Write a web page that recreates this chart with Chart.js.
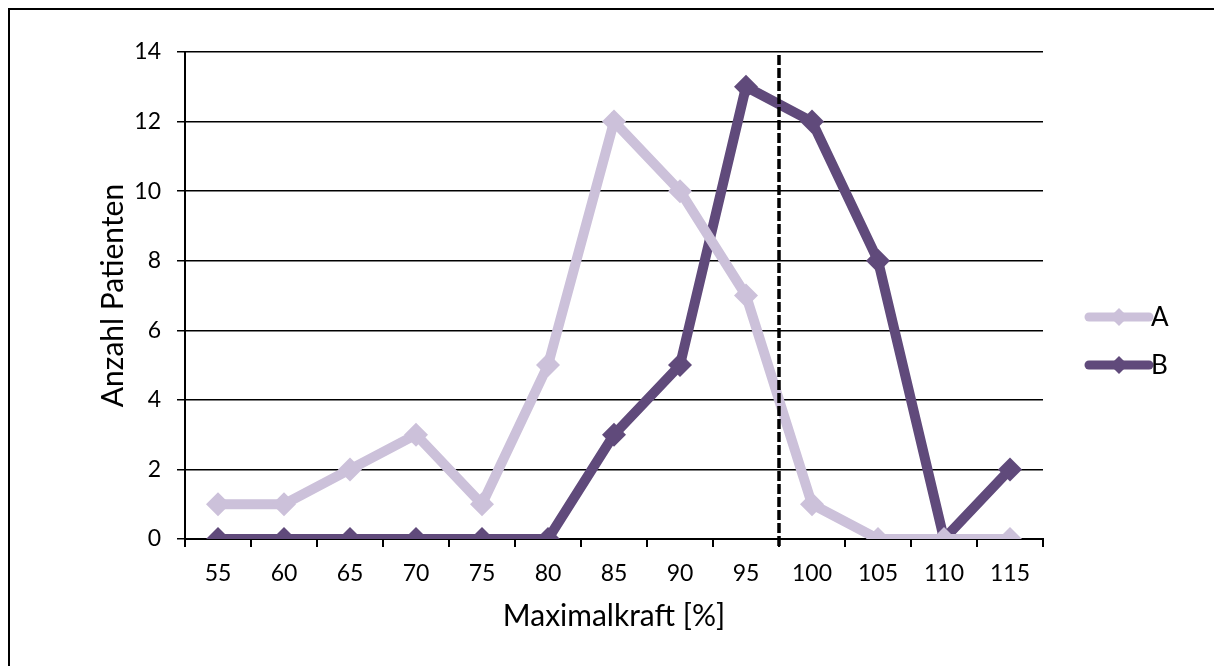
<!DOCTYPE html>
<html>
<head>
<meta charset="utf-8">
<script src="https://cdn.jsdelivr.net/npm/chart.js@4/dist/chart.umd.min.js"></script>
<style>
  html, body { margin: 0; padding: 0; background: #fff; }
  #wrap { width: 1214px; height: 666px; position: relative; }
</style>
</head>
<body>
<div id="wrap"><canvas id="c" width="1214" height="666"></canvas></div>
<script>
// Force bins (percent of maximal force)
const categories = ['55', '60', '65', '70', '75', '80', '85', '90', '95', '100', '105', '110', '115'];
// Number of patients per bin
const seriesA = [1, 1, 2, 3, 1, 5, 12, 10, 7, 1, 0, 0, 0];
const seriesB = [0, 0, 0, 0, 0, 0, 3, 5, 13, 12, 8, 0, 2];
const seriesNames = ['A', 'B'];
// Reference threshold, drawn as dashed vertical line (in % of maximal force)
const thresholdValue = 97.5;

const colorA = '#CCC1DA';
const colorB = '#604A7B';
const FONT = 'Lato, "Open Sans", sans-serif';

// Position of the threshold on the category axis (index units)
function thresholdIndex() {
  const first = Number(categories[0]);
  const step = Number(categories[1]) - first;
  return (thresholdValue - first) / step;
}

const framePlugin = {
  id: 'frame',
  afterDraw(chart) {
    const ctx = chart.ctx;
    ctx.save();
    // outer frame (top and left edges)
    ctx.strokeStyle = '#000';
    ctx.lineWidth = 2;
    ctx.beginPath();
    ctx.moveTo(9, 666);
    ctx.lineTo(9, 9);
    ctx.lineTo(1214, 9);
    ctx.stroke();

    // dashed threshold line
    const xs = chart.scales.x;
    const ys = chart.scales.y;
    const px = Math.round(xs.getPixelForValue(thresholdIndex()));
    ctx.setLineDash([10, 3]);
    ctx.lineWidth = 3.5;
    ctx.beginPath();
    ctx.moveTo(px, ys.top + 3);
    ctx.lineTo(px, ys.bottom + 8);
    ctx.stroke();
    ctx.setLineDash([]);

    // legend: line sample with diamond marker and label
    chart.data.datasets.forEach((ds, i) => {
      const y = 317 + i * 48;
      const x0 = 1089, x1 = 1149;
      ctx.strokeStyle = ds.borderColor;
      ctx.lineWidth = 9;
      ctx.lineCap = 'round';
      ctx.beginPath();
      ctx.moveTo(x0, y);
      ctx.lineTo(x1, y);
      ctx.stroke();
      const cx = (x0 + x1) / 2, r = 9;
      ctx.fillStyle = ds.borderColor;
      ctx.beginPath();
      ctx.moveTo(cx, y - r);
      ctx.lineTo(cx + r, y);
      ctx.lineTo(cx, y + r);
      ctx.lineTo(cx - r, y);
      ctx.closePath();
      ctx.fill();
      ctx.fillStyle = '#000';
      ctx.font = '26px ' + FONT;
      ctx.textAlign = 'left';
      ctx.textBaseline = 'middle';
      ctx.fillText(ds.label, x1 + 2, y + 1);
    });
    ctx.restore();
  }
};

const lineStyle = (color) => ({
  borderColor: color,
  backgroundColor: color,
  borderWidth: 10,
  pointStyle: 'rectRot',
  pointRadius: 12,
  pointHoverRadius: 12,
  pointBorderWidth: 0,
  pointBackgroundColor: color,
  tension: 0,
  fill: false
});

new Chart(document.getElementById('c'), {
  type: 'line',
  data: {
    labels: categories,
    datasets: [
      Object.assign({ label: seriesNames[0], data: seriesA }, lineStyle(colorA)),
      Object.assign({ label: seriesNames[1], data: seriesB }, lineStyle(colorB))
    ]
  },
  options: {
    responsive: false,
    animation: false,
    layout: { padding: { top: 52, right: 171, bottom: 0, left: 0 } },
    plugins: { legend: { display: false }, tooltip: { enabled: false } },
    scales: {
      x: {
        type: 'category',
        offset: true,
        afterFit(scale) { scale.height = 127; },
        grid: {
          offset: true,
          drawOnChartArea: false,
          drawTicks: true,
          tickLength: 8,
          color: '#000',
          lineWidth: 2
        },
        border: { display: true, color: '#000', width: 2 },
        ticks: {
          color: '#000',
          font: { family: FONT, size: 23 },
          padding: 13,
          maxRotation: 0,
          autoSkip: false
        },
        title: {
          display: true,
          text: 'Maximalkraft [%]',
          color: '#000',
          font: { family: FONT, size: 30 },
          padding: { top: 0, bottom: 32 }
        }
      },
      y: {
        min: 0,
        max: 14,
        afterFit(scale) { scale.width = 185; },
        grid: {
          drawOnChartArea: true,
          drawTicks: true,
          tickLength: 8,
          color: '#000',
          lineWidth: 1.5
        },
        border: { display: true, color: '#000', width: 2 },
        ticks: {
          stepSize: 2,
          color: '#000',
          font: { family: FONT, size: 23 },
          padding: 16
        },
        title: {
          display: true,
          text: 'Anzahl Patienten',
          color: '#000',
          font: { family: FONT, size: 30 },
          padding: { top: 95, bottom: 0 }
        }
      }
    }
  },
  plugins: [framePlugin]
});
</script>
</body>
</html>
